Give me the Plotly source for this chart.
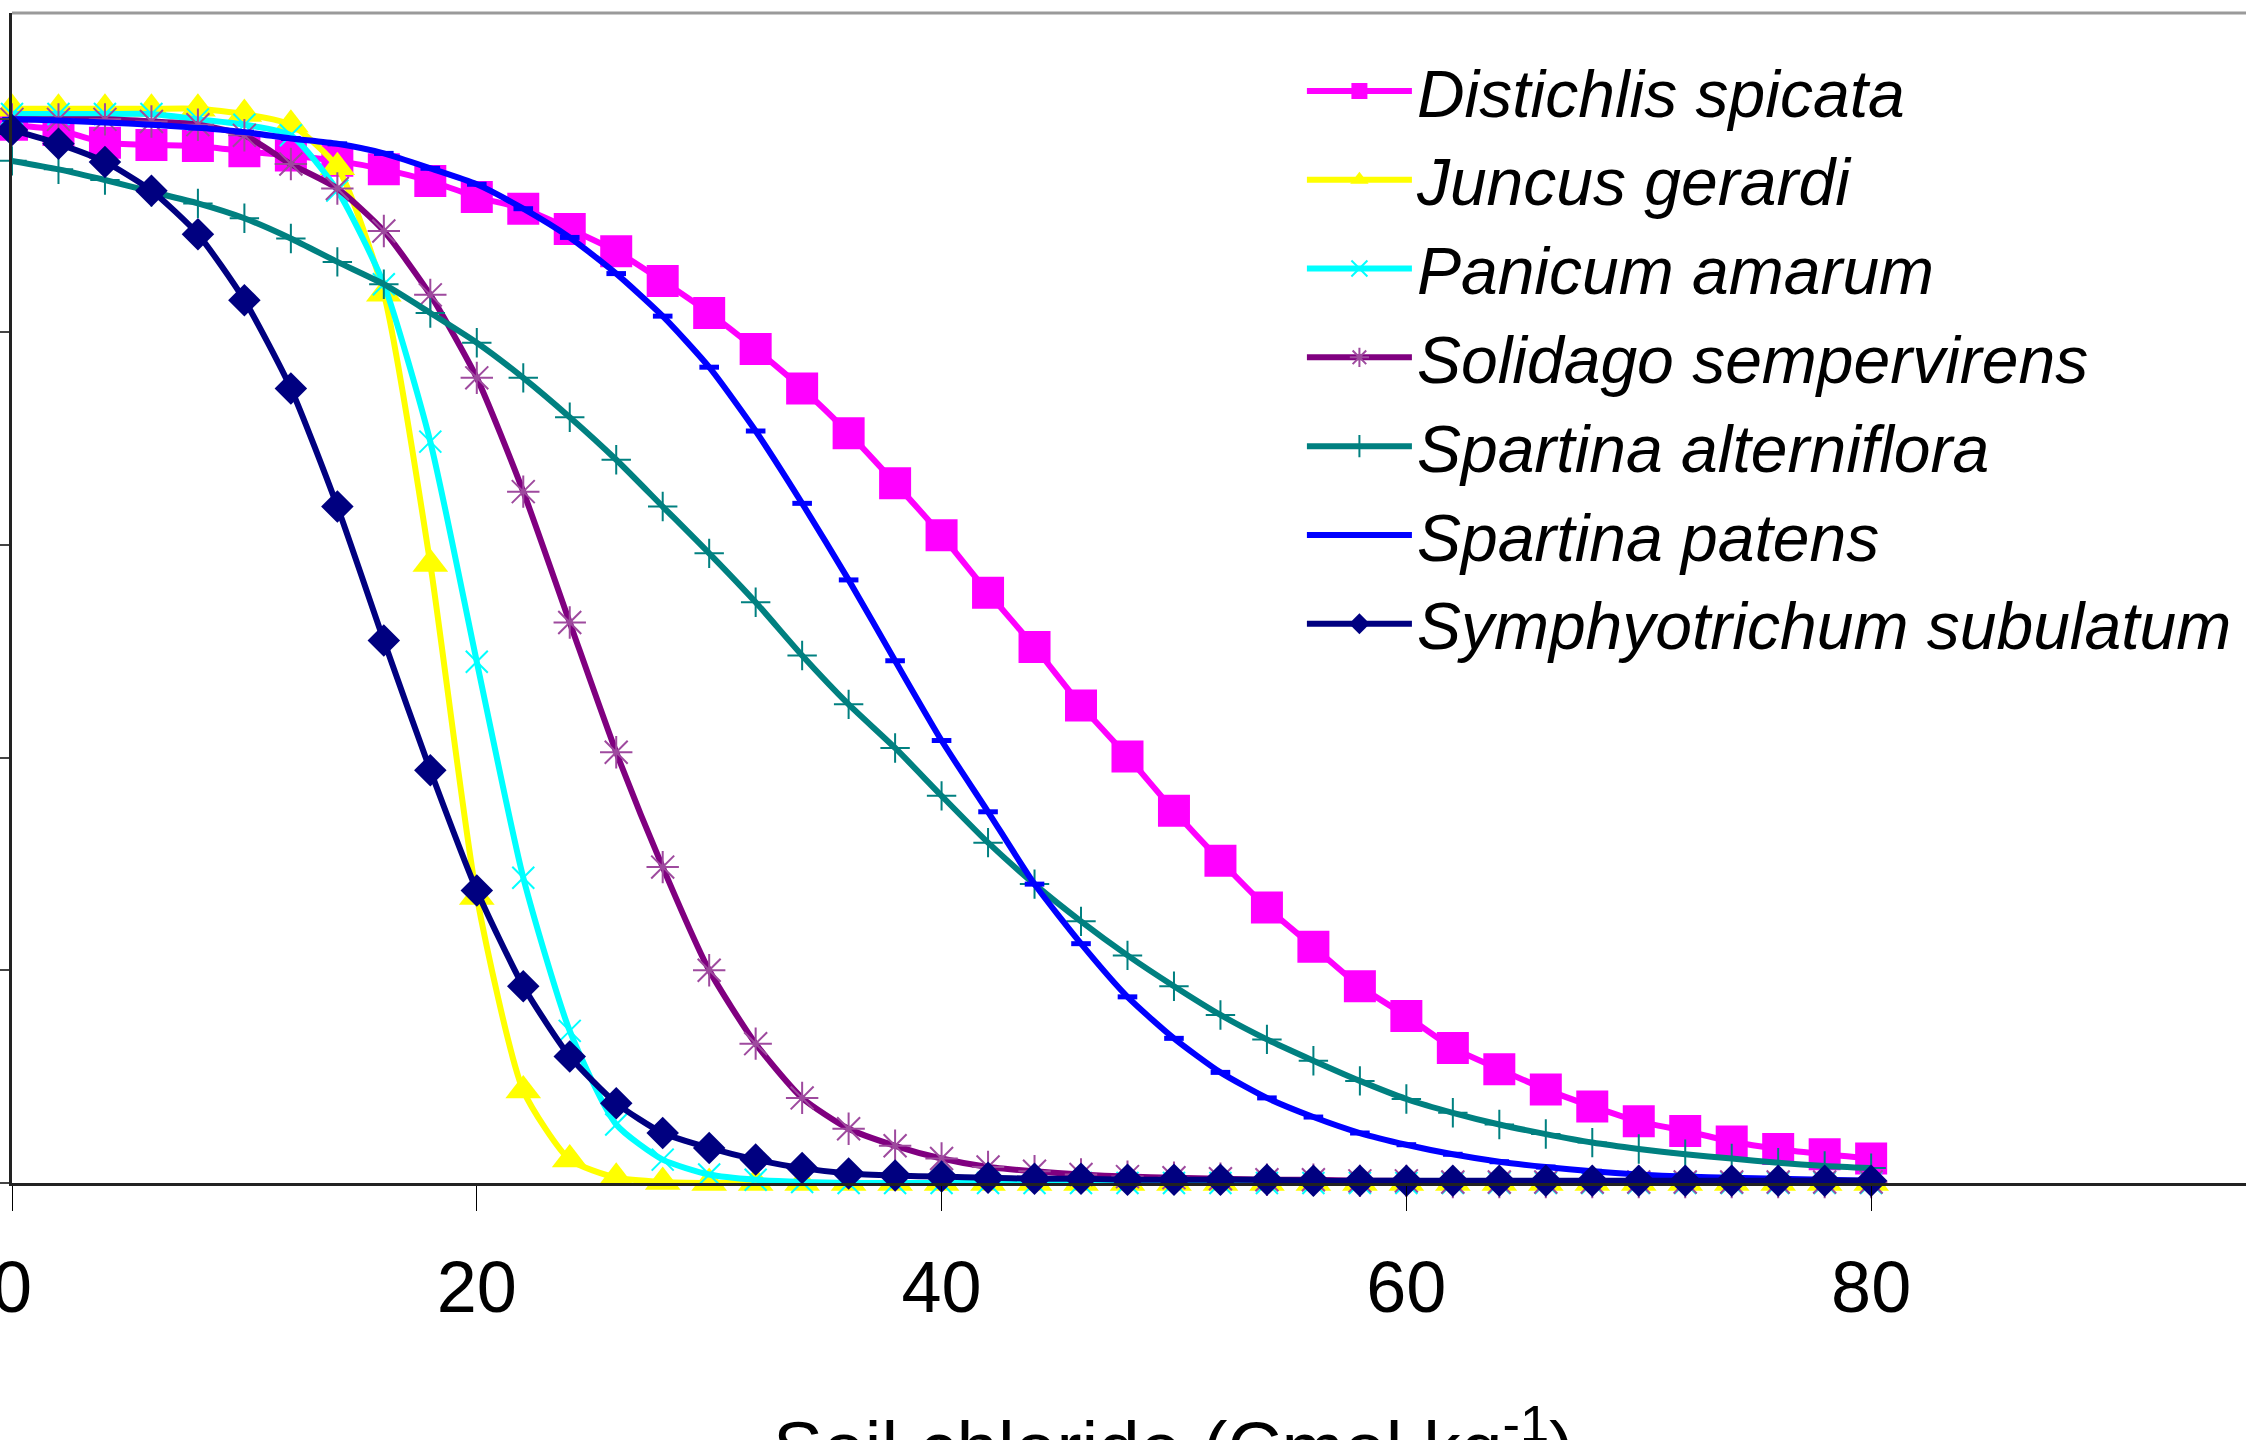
import plotly.graph_objects as go

# Soil chloride concentration (Cmol kg-1)
chloride = [0, 2, 4, 6, 8, 10, 12, 14, 16, 18, 20, 22, 24, 26, 28, 30, 32, 34, 36, 38, 40,
            42, 44, 46, 48, 50, 52, 54, 56, 58, 60, 62, 64, 66, 68, 70, 72, 74, 76, 78, 80]

# Relative response of each species
distichlis_spicata = [0.995, 0.99, 0.978, 0.976, 0.975, 0.970, 0.966, 0.961, 0.953, 0.942, 0.927,
                      0.916, 0.897, 0.876, 0.848, 0.818, 0.784, 0.747, 0.705, 0.658, 0.609,
                      0.555, 0.504, 0.449, 0.401, 0.350, 0.303, 0.259, 0.222, 0.185, 0.157,
                      0.127, 0.107, 0.088, 0.072, 0.058, 0.049, 0.039, 0.032, 0.027, 0.023]
juncus_gerardi = [1.01, 1.01, 1.01, 1.01, 1.01, 1.005, 0.995, 0.955, 0.836, 0.582, 0.269,
                  0.087, 0.022, 0.005, 0.001, 0.0, 0.0, 0.0, 0.0, 0.0, 0.0,
                  0.0, 0.0, 0.0, 0.0, 0.0, 0.0, 0.0, 0.0, 0.0, 0.0,
                  0.0, 0.0, 0.0, 0.0, 0.0, 0.0, 0.0, 0.0, 0.0, 0.0]
panicum_amarum = [1.005, 1.005, 1.005, 1.005, 1.0, 0.995, 0.985, 0.933, 0.845, 0.697, 0.49,
                  0.287, 0.143, 0.055, 0.022, 0.008, 0.003, 0.001, 0.0, 0.0, 0.0,
                  0.0, 0.0, 0.0, 0.0, 0.0, 0.0, 0.0, 0.0, 0.0, 0.0,
                  0.0, 0.0, 0.0, 0.0, 0.0, 0.0, 0.0, 0.0, 0.0, 0.0]
solidago_sempervirens = [1.0, 1.0, 1.0, 0.998, 0.995, 0.985, 0.958, 0.935, 0.895, 0.835, 0.757,
                         0.65, 0.527, 0.405, 0.297, 0.2, 0.131, 0.08, 0.051, 0.035, 0.023,
                         0.015, 0.011, 0.008, 0.006, 0.005, 0.004, 0.003, 0.003, 0.002, 0.002,
                         0.001, 0.001, 0.001, 0.001, 0.001, 0.001, 0.001, 0.001, 0.001, 0.001]
spartina_alterniflora = [0.961, 0.953, 0.943, 0.932, 0.921, 0.907, 0.888, 0.866, 0.845, 0.818, 0.790,
                         0.757, 0.720, 0.680, 0.636, 0.592, 0.546, 0.496, 0.450, 0.409, 0.364,
                         0.320, 0.281, 0.246, 0.214, 0.185, 0.158, 0.135, 0.115, 0.096, 0.079,
                         0.066, 0.055, 0.046, 0.038, 0.032, 0.027, 0.023, 0.019, 0.016, 0.014]
spartina_patens = [1.0, 0.999, 0.997, 0.995, 0.992, 0.988, 0.982, 0.977, 0.968, 0.954, 0.939,
                   0.916, 0.889, 0.855, 0.815, 0.767, 0.707, 0.639, 0.567, 0.491, 0.416,
                   0.349, 0.281, 0.225, 0.175, 0.136, 0.104, 0.080, 0.062, 0.047, 0.036,
                   0.027, 0.020, 0.015, 0.011, 0.008, 0.006, 0.005, 0.004, 0.003, 0.002]
symphyotrichum_subulatum = [0.99, 0.977, 0.96, 0.933, 0.892, 0.83, 0.747, 0.636, 0.51, 0.388, 0.275,
                            0.185, 0.119, 0.075, 0.047, 0.033, 0.022, 0.014, 0.009, 0.007, 0.006,
                            0.005, 0.004, 0.004, 0.003, 0.003, 0.003, 0.003, 0.002, 0.002, 0.002,
                            0.002, 0.002, 0.002, 0.002, 0.002, 0.002, 0.002, 0.002, 0.002, 0.002]

species_names = ["Distichlis spicata", "Juncus gerardi", "Panicum amarum",
                 "Solidago sempervirens", "Spartina alterniflora", "Spartina patens",
                 "Symphyotrichum subulatum"]
x_tick_values = [0, 20, 40, 60, 80]
x_tick_labels = ["0", "20", "40", "60", "80"]
x_title = "Soil chloride (Cmol kg<sup>-1</sup>)"

# Per-series appearance: line colour, marker symbol, marker size, marker colour, marker outline
styles = [
    dict(color="#FF00FF", symbol="square", size=32, mcolor="#FF00FF", mline=0),
    dict(color="#FFFF00", symbol="triangle-up", size=31, mcolor="#FFFF00", mline=0),
    dict(color="#00FFFF", symbol="x-thin-open", size=22, mcolor="#00FFFF", mline=2),
    dict(color="#800080", symbol="asterisk-open", size=27, mcolor="#9E4A9E", mline=2),
    dict(color="#008080", symbol="cross-thin-open", size=21, mcolor="#008080", mline=2),
    dict(color="#0000FF", symbol="line-ew-open", size=14, mcolor="#0000FF", mline=5),
    dict(color="#000080", symbol="diamond", size=25, mcolor="#000080", mline=0),
]
series = [distichlis_spicata, juncus_gerardi, panicum_amarum, solidago_sempervirens,
          spartina_alterniflora, spartina_patens, symphyotrichum_subulatum]

fig = go.Figure()
for name, values, st in zip(species_names, series, styles):
    marker = dict(symbol=st["symbol"], size=st["size"], color=st["mcolor"])
    if st["mline"]:
        marker["line"] = dict(color=st["mcolor"], width=st["mline"])
    else:
        marker["line"] = dict(width=0)
    fig.add_trace(go.Scatter(
        x=chloride, y=values, name=name, mode="lines+markers",
        line=dict(color=st["color"], width=6, shape="spline", smoothing=0.6),
        marker=marker, cliponaxis=False,
    ))

fig.add_annotation(
    x=50, xref="x", y=-0.2214, yref="paper", yanchor="middle",
    text=x_title, showarrow=False,
    font=dict(family="Liberation Sans, Arial, sans-serif", size=75, color="black"),
)

# Grey frame line along the top of the plot area
fig.add_shape(type="line", xref="paper", yref="paper", x0=0, x1=1, y0=1, y1=1,
              line=dict(color="#9a9a9a", width=3))

fig.update_layout(
    width=2246, height=1440,
    margin=dict(l=12, r=0, t=13, b=257, autoexpand=False),
    paper_bgcolor="white", plot_bgcolor="white",
    font=dict(family="Liberation Sans, Arial, sans-serif", color="black"),
    showlegend=True,
    legend=dict(
        x=0.5774, y=0.9756, xanchor="left", yanchor="top",
        font=dict(size=66, style="italic", color="black"),
        bgcolor="rgba(0,0,0,0)", itemwidth=105, tracegroupgap=0,
    ),
    xaxis=dict(
        range=[0, 96.13], tickvals=x_tick_values, ticktext=x_tick_labels,
        automargin=False, ticklabeloverflow="allow",
        showgrid=False, zeroline=False, showline=True, linecolor="#222222", linewidth=3,
        ticks="outside", ticklen=25, tickwidth=1, tickcolor="black",
        tickfont=dict(size=72, color="black"), ticklabelstandoff=15,
    ),
    yaxis=dict(
        range=[0, 1.1], dtick=0.2, showgrid=False, zeroline=False, automargin=False,
        showline=True, linecolor="#222222", linewidth=3,
        ticks="outside", ticklen=25, tickwidth=2, tickcolor="#444444",
        showticklabels=False,
    ),
)

fig.write_html("out.html")
